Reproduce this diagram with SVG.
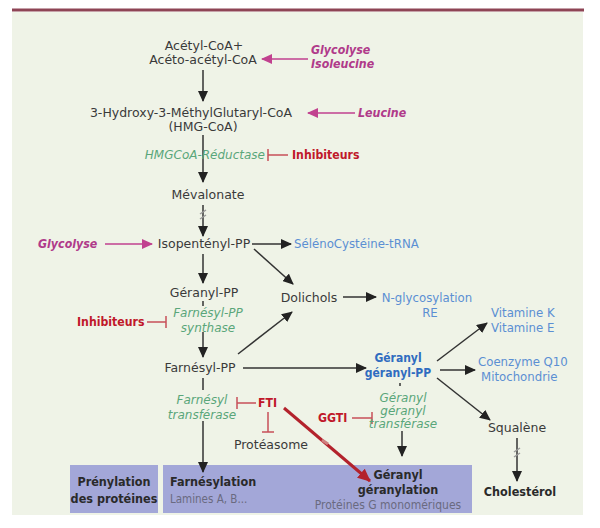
<svg xmlns="http://www.w3.org/2000/svg" width="600" height="528" viewBox="0 0 600 528">
<defs>
<marker id="ah" markerUnits="userSpaceOnUse" markerWidth="12" markerHeight="10" refX="10" refY="5" orient="auto"><path d="M0,0 L11,5 L0,10 Z" fill="#222"/></marker>
<marker id="ahp" markerUnits="userSpaceOnUse" markerWidth="12" markerHeight="10" refX="10" refY="5" orient="auto"><path d="M0,0 L11,5 L0,10 Z" fill="#c1418f"/></marker>
<marker id="ahr" markerUnits="userSpaceOnUse" markerWidth="14" markerHeight="12" refX="12" refY="6" orient="auto"><path d="M0,0 L13,6 L0,12 Z" fill="#b3222c"/></marker>
</defs>
<style>
text{font-family:"DejaVu Sans",sans-serif;font-size:12.5px;fill:#3a3a3a}
.c{text-anchor:middle}
.pk{font-family:"DejaVu Sans Condensed","DejaVu Sans",sans-serif;font-size:12.3px;fill:#b03a8a;font-weight:bold;font-style:italic}
.rd{font-family:"DejaVu Sans Condensed","DejaVu Sans",sans-serif;font-size:12.2px;fill:#c0182a;font-weight:bold}
.gr{font-size:12px;fill:#5aa67a;font-style:italic}
.bl{font-size:11.75px;fill:#5b8fd3}
.bb{font-family:"DejaVu Sans Condensed","DejaVu Sans",sans-serif;font-size:12px;fill:#2f6cc0;font-weight:bold}
.bd{font-family:"DejaVu Sans Condensed","DejaVu Sans",sans-serif;font-size:12.5px;font-weight:bold;fill:#2a2a2a}
.gy{font-family:"DejaVu Sans Condensed","DejaVu Sans",sans-serif;font-size:11.5px;fill:#6a6a80}
.ln{stroke:#333;stroke-width:1.5;fill:none}
.pl{stroke:#c1418f;stroke-width:1.5;fill:none}
.il{stroke:#c8505a;stroke-width:1.5;fill:none}
</style>
<rect x="0" y="0" width="600" height="528" fill="#ffffff"/>
<rect x="12" y="12" width="571" height="503" fill="#eff3e7"/>
<line x1="12" y1="10" x2="584" y2="10" stroke="#8e4455" stroke-width="3"/>

<g id="boxes">
<rect x="70" y="465" width="88" height="48" fill="#a3a7d8"/>
<rect x="163" y="465" width="309" height="48" fill="#a3a7d8"/>
</g>

<g id="connectors">
<line class="ln" x1="203" y1="70" x2="203" y2="101" marker-end="url(#ah)"/>
<line class="pl" x1="308" y1="59" x2="262" y2="59" marker-end="url(#ahp)"/>
<line class="pl" x1="355" y1="113" x2="308" y2="113" marker-end="url(#ahp)"/>
<line class="ln" x1="203" y1="135" x2="203" y2="182" marker-end="url(#ah)"/>
<path class="il" d="M288,155 L268,155 M268,149 L268,161"/>
<line class="ln" x1="203" y1="205" x2="203" y2="236" marker-end="url(#ah)"/>
<path d="M200,214 L206,210 M200,219 L206,215" stroke="#999" stroke-width="1.5" fill="none"/>
<line class="pl" x1="105" y1="244" x2="152" y2="244" marker-end="url(#ahp)"/>
<line class="ln" x1="252" y1="244" x2="291" y2="244" marker-end="url(#ah)"/>
<line class="ln" x1="254" y1="249" x2="293" y2="284" marker-end="url(#ah)"/>
<line class="ln" x1="203" y1="254" x2="203" y2="283" marker-end="url(#ah)"/>
<line class="ln" x1="343" y1="297" x2="376" y2="297" marker-end="url(#ah)"/>
<line class="ln" x1="203" y1="301" x2="203" y2="306" stroke-width="1"/>
<line class="ln" x1="203" y1="332" x2="203" y2="357" marker-end="url(#ah)"/>
<path class="il" d="M147,322 L166,322 M166,316 L166,328"/>
<line class="ln" x1="238" y1="354" x2="292" y2="312" marker-end="url(#ah)"/>
<line class="ln" x1="243" y1="368" x2="366" y2="368" marker-end="url(#ah)"/>
<line class="ln" x1="437" y1="361" x2="487" y2="323" marker-end="url(#ah)"/>
<line class="ln" x1="440" y1="370" x2="475" y2="370" marker-end="url(#ah)"/>
<line class="ln" x1="437" y1="378" x2="490" y2="420" marker-end="url(#ah)"/>
<line class="ln" x1="517" y1="438" x2="517" y2="481" marker-end="url(#ah)" stroke="#555"/>
<path d="M514,452 L520,448 M514,457 L520,453" stroke="#999" stroke-width="1.5" fill="none"/>
<line class="ln" x1="203" y1="378" x2="203" y2="390"/>
<line class="ln" x1="203" y1="421" x2="203" y2="472" marker-end="url(#ah)"/>
<path class="il" d="M256,403 L237,403 M237,397 L237,409"/>
<path class="il" d="M268,412 L268,432 M262,432 L274,432"/>
<line x1="284" y1="408" x2="370" y2="481" stroke="#b3222c" stroke-width="3" marker-end="url(#ahr)"/>
<path d="M322,440 L328,444" stroke="#d08080" stroke-width="3"/>
<path class="il" d="M352,418 L372,418 M372,412 L372,424"/>
<line class="ln" x1="400" y1="383" x2="400" y2="386" stroke-width="1"/>
<line class="ln" x1="402" y1="431" x2="402" y2="456" marker-end="url(#ah)"/>
</g>

<g id="acetyl"><text class="c" x="204" y="50">Acétyl-CoA+</text><text class="c" x="203" y="64">Acéto-acétyl-CoA</text></g>
<g id="glycolyse1"><text class="pk" x="311" y="54">Glycolyse</text><text class="pk" x="311" y="68">Isoleucine</text></g>
<g id="hmgcoa"><text class="c" x="191" y="117">3-Hydroxy-3-MéthylGlutaryl-CoA</text><text class="c" x="203" y="131">(HMG-CoA)</text></g>
<g id="leucine"><text class="pk" x="358" y="117">Leucine</text></g>
<g id="reductase"><text class="gr" x="265" y="159" text-anchor="end">HMGCoA-Réductase</text></g>
<g id="inhib1"><text class="rd" x="292" y="159">Inhibiteurs</text></g>
<g id="mevalonate"><text class="c" x="208" y="199">Mévalonate</text></g>
<g id="glycolyse2"><text class="pk" x="38" y="248">Glycolyse</text></g>
<g id="isopentenyl"><text class="c" x="204" y="248">Isopentényl-PP</text></g>
<g id="seleno"><text class="bl" x="294" y="248">SélénoCystéine-tRNA</text></g>
<g id="geranylpp"><text class="c" x="204" y="297">Géranyl-PP</text></g>
<g id="dolichols"><text class="c" x="309" y="302">Dolichols</text></g>
<g id="nglyco"><text class="bl c" x="427" y="302">N-glycosylation</text><text class="bl c" x="430" y="317">RE</text></g>
<g id="fpps"><text class="gr c" x="208" y="317">Farnésyl-PP</text><text class="gr c" x="208" y="332">synthase</text></g>
<g id="inhib2"><text class="rd" x="77" y="326">Inhibiteurs</text></g>
<g id="farnesylpp"><text class="c" x="200" y="372">Farnésyl-PP</text></g>
<g id="ggpp"><text class="bb c" x="398" y="362">Géranyl</text><text class="bb c" x="398" y="377">géranyl-PP</text></g>
<g id="vitamine"><text class="bl" x="491" y="317">Vitamine K</text><text class="bl" x="491" y="332">Vitamine E</text></g>
<g id="coenzyme"><text class="bl" x="478" y="366">Coenzyme Q10</text><text class="bl" x="481" y="381">Mitochondrie</text></g>
<g id="squalene"><text class="c" x="517" y="432">Squalène</text></g>
<g id="cholesterol"><text class="bd c" x="520" y="496">Cholestérol</text></g>
<g id="ftase"><text class="gr c" x="202" y="404">Farnésyl</text><text class="gr c" x="202" y="419">transférase</text></g>
<g id="fti"><text class="rd" x="258" y="407">FTI</text></g>
<g id="proteasome"><text class="c" x="271" y="449">Protéasome</text></g>
<g id="ggti"><text class="rd" x="318" y="422">GGTI</text></g>
<g id="ggtase"><text class="gr c" x="403" y="402">Géranyl</text><text class="gr c" x="403" y="415">géranyl</text><text class="gr c" x="403" y="428">transférase</text></g>
<g id="prenylation"><text class="bd c" x="114" y="486">Prénylation</text><text class="bd c" x="114" y="503">des protéines</text></g>
<g id="farnesylation"><text class="bd" x="170" y="486">Farnésylation</text><text class="gy" x="170" y="503">Lamines A, B...</text></g>
<g id="geranylation"><text class="bd c" x="398" y="479">Géranyl</text><text class="bd c" x="398" y="494">géranylation</text><text class="gy c" x="388" y="509" style="font-size:12px">Protéines G monomériques</text></g>
</svg>
